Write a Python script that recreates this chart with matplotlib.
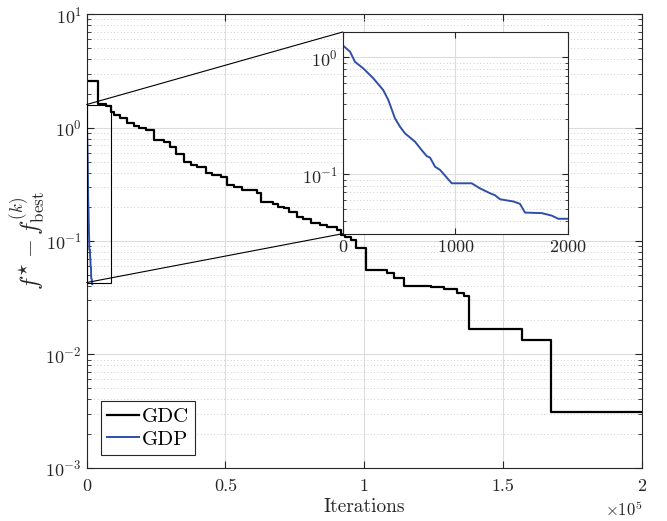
import matplotlib
matplotlib.use('Agg')
import matplotlib.pyplot as plt
from matplotlib.patches import Rectangle, ConnectionPatch
from matplotlib.ticker import LogLocator, NullFormatter

plt.rcParams['font.family'] = 'serif'
plt.rcParams['font.serif'] = ['cmr10', 'DejaVu Serif']
plt.rcParams['mathtext.fontset'] = 'cm'
plt.rcParams['axes.formatter.use_mathtext'] = True

# GDC: best-so-far gap (step curve), iterations where value changes
gdc_iter = [0, 4100, 7000, 8900, 9800, 12000, 14600, 17000, 19000, 21300,
            24200, 27800, 30000, 32000, 35000, 37500, 39900, 42900, 45000,
            48300, 50700, 53000, 56100, 61500, 62700, 67000, 69000, 71100,
            73000, 75900, 78000, 80700, 84000, 86700, 90300, 91500, 93000,
            95100, 97000, 100500, 108300, 110700, 114300, 124000, 128700,
            133500, 136000, 137800, 157000, 167200, 200000]
gdc_val = [2.6, 1.62, 1.55, 1.38, 1.30, 1.22, 1.10, 1.03, 0.99, 0.95,
           0.78, 0.75, 0.68, 0.59, 0.50, 0.47, 0.45, 0.40, 0.38,
           0.37, 0.31, 0.30, 0.28, 0.263, 0.222, 0.21, 0.20, 0.194,
           0.18, 0.164, 0.155, 0.143, 0.138, 0.134, 0.125, 0.114, 0.108,
           0.102, 0.086, 0.055, 0.0527, 0.047, 0.040, 0.0395, 0.0375,
           0.0348, 0.033, 0.0169, 0.0133, 0.00313, 0.00313]

# GDP
gdp_iter = [0, 0, 65, 109, 183, 272, 360, 405, 464, 509, 553, 642, 701, 746,
            775, 820, 864, 968, 1145, 1219, 1308, 1353, 1397, 1515, 1574,
            1618, 1767, 1855, 1914, 2000]
gdp_val = [1.6, 1.27, 1.12, 0.917, 0.805, 0.662, 0.525, 0.432, 0.301, 0.255,
           0.224, 0.190, 0.161, 0.143, 0.139, 0.116, 0.109, 0.0837, 0.0837,
           0.0757, 0.0688, 0.066, 0.0611, 0.0585, 0.0558, 0.047, 0.0465,
           0.0443, 0.0416, 0.0416]

x_ticks = [0, 0.5e5, 1e5, 1.5e5, 2e5]
x_labels = ['0', '0.5', '1', '1.5', '2']

axc = '#262626'
blue = '#2f4fa8'


def style_axes(a, major_len):
    a.yaxis.set_major_locator(LogLocator(base=10, numticks=10))
    a.yaxis.set_minor_locator(LogLocator(base=10, subs=range(2, 10), numticks=20))
    a.yaxis.set_minor_formatter(NullFormatter())
    a.grid(True, which='major', color='#dcdcdc', lw=0.8)
    a.grid(True, which='minor', axis='y', color='#bdbdbd', lw=0.6,
           linestyle=(0, (1, 3)))
    a.tick_params(which='both', direction='in', top=True, right=True,
                  colors=axc, labelsize=13)
    a.tick_params(which='major', length=major_len)
    a.tick_params(which='minor', length=major_len * 0.6)
    for s in a.spines.values():
        s.set_color(axc)
        s.set_linewidth(0.8)


fig = plt.figure(figsize=(6.67, 5.21), dpi=100)
ax = fig.add_axes([86.7 / 667, 1 - 467.7 / 521, 555 / 667, 453.4 / 521])

ax.plot(gdc_iter, gdc_val, color='black', lw=1.6, drawstyle='steps-post', label='GDC')
ax.plot(gdp_iter, gdp_val, color=blue, lw=1.4, label='GDP')
ax.set_yscale('log')
ax.set_xlim(0, 2e5)
ax.set_ylim(1e-3, 10)
ax.set_xticks(x_ticks)
ax.set_xticklabels(x_labels)
style_axes(ax, 5)
ax.tick_params(axis='x', pad=8)
ax.set_xlabel('Iterations', fontsize=14, color=axc, labelpad=3)
ax.set_ylabel(r'$f^{\star}-f^{(k)}_{\rm best}$', fontsize=17.5, color=axc, labelpad=-1)
ax.text(1.002, -0.07, r'$\times10^{5}$', transform=ax.transAxes, ha='right',
        va='top', fontsize=12, color=axc)

leg = ax.legend(loc='lower left', bbox_to_anchor=(0.026, 0.028), fontsize=15,
                fancybox=False, edgecolor=axc, framealpha=1, handlelength=1.5,
                handletextpad=0.15, borderpad=0.3, labelspacing=0.2,
                borderaxespad=0)
leg.get_frame().set_linewidth(0.8)

# zoom box in main axes
r_x0, r_x1, r_y0, r_y1 = 0, 8900, 0.043, 1.6
ax.add_patch(Rectangle((r_x0, r_y0), r_x1 - r_x0, r_y1 - r_y0, fill=False,
                       ec='black', lw=0.8, zorder=5))

# inset
axi = fig.add_axes([342.7 / 667, 1 - 233.7 / 521, 225.3 / 667, 201.7 / 521])
axi.plot(gdp_iter, gdp_val, color=blue, lw=1.4)
axi.set_yscale('log')
axi.set_xlim(0, 2000)
axi.set_ylim(0.031, 1.65)
axi.set_xticks([0, 1000, 2000])
style_axes(axi, 4)

for yv, yi in [(r_y1, 1), (r_y0, 0)]:
    con = ConnectionPatch(xyA=(0, yv), coordsA=ax.transData,
                          xyB=(0, yi), coordsB=axi.transAxes,
                          color='black', lw=0.8)
    fig.add_artist(con)

fig.savefig('out.png', dpi=100)
